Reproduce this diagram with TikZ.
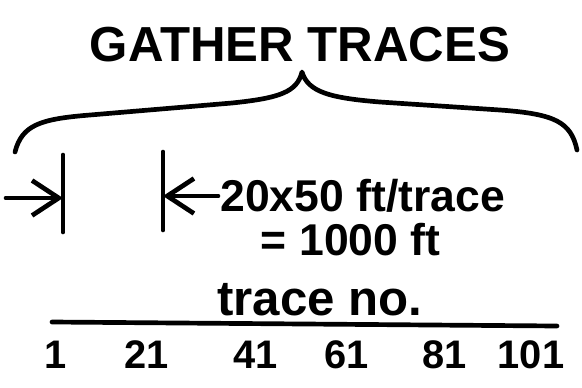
\documentclass[tikz,border=0pt]{standalone}
\usepackage{fontspec}
\setmainfont{Liberation Sans}
\usetikzlibrary{positioning,calc,arrows.meta}

\begin{document}
\begin{tikzpicture}[x=0.03cm, y=-0.03cm, line width=4pt, line cap=round, line join=round,
    hand/.style={font=\fontsize{38}{38}\selectfont\bfseries, inner sep=0pt},
    num/.style={font=\fontsize{34}{34}\selectfont\bfseries, inner sep=0pt},
    barb/.style={-{Straight Barb[length=0.8cm, width=1.05cm, line width=4pt]}}]
    \useasboundingbox (0,0) rectangle (582,387);

    % Title and brace
    \node[font=\fontsize{42}{42}\selectfont\bfseries, inner sep=0pt] (title) at (300,45) {GATHER TRACES};
    \coordinate (tip) at (302,72);
    \draw (15,152) .. controls (22,125) and (40,119) .. (90,115) -- (232,103)
        .. controls (280,98) and (297,92) .. (tip)
        .. controls (308,92) and (330,98) .. (380,102) -- (500,110)
        .. controls (555,114) and (571,122) .. (577,150);

    % Bars
    \coordinate (barLtop) at (63,155);
    \coordinate (barLbot) at (63,232);
    \coordinate (barRtop) at (163,152);
    \coordinate (barRbot) at (163,230);
    \draw (barLtop) -- (barLbot);
    \draw (barRtop) -- (barRbot);

    % Arrows
    \coordinate (arrL) at (6,198);
    \draw[barb] (arrL) -- (arrL -| barLtop);
    \node[hand, anchor=west] (span) at (218,196) {20x50 ft/trace};
    \node[hand, anchor=north] (total) at ($(span.south)+(-12,6)$) {= 1000 ft};
    \draw[barb] (span.west) -- (span.west -| barRtop);

    % Axis
    \node[font=\fontsize{42}{42}\selectfont\bfseries, inner sep=0pt] (label) at (320,300) {trace no.};
    \coordinate (axL) at (52,322);
    \coordinate (axR) at (557,326);
    \draw (axL) -- (axR);
    \foreach \n/\x in {1/56, 21/147, 41/256, 61/347, 81/445, 101/531}
        \node[num] (n\n) at (\x,355) {\n};
\end{tikzpicture}
\end{document}
